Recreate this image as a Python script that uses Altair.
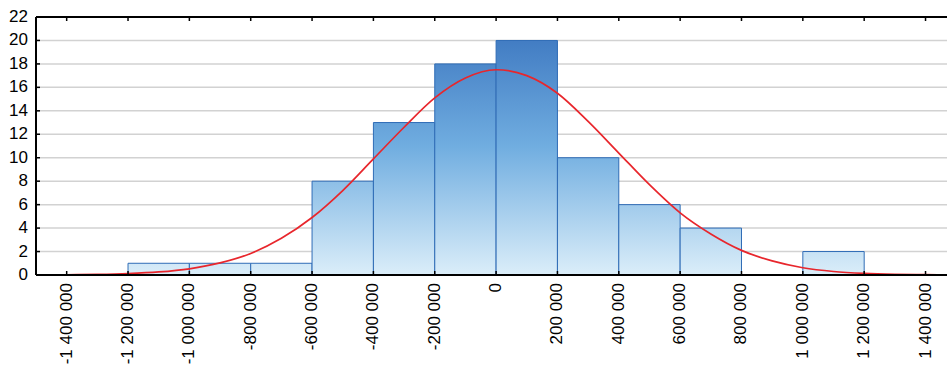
import altair as alt
import pandas as pd

# ---- data ----
bin_start = [-1200000, -1000000, -800000, -600000, -400000, -200000, 0, 200000, 400000, 600000, 800000, 1000000]
bin_end = [-1000000, -800000, -600000, -400000, -200000, 0, 200000, 400000, 600000, 800000, 1000000, 1200000]
counts = [1, 1, 1, 8, 13, 18, 20, 10, 6, 4, 0, 2]

curve_x = [-1500000, -1400000, -1300000, -1200000, -1100000, -1000000, -900000, -800000,
           -700000, -600000, -500000, -400000, -300000, -200000, -100000, 0,
           100000, 200000, 300000, 400000, 500000, 600000, 700000, 800000,
           900000, 1000000, 1100000, 1200000, 1300000, 1400000, 1500000]
curve_y = [0.01, 0.02, 0.05, 0.12, 0.26, 0.53, 1.03, 1.84,
           3.13, 4.9, 7.2, 9.9, 12.6, 15.1, 16.8, 17.5,
           17.0, 15.5, 13.1, 10.4, 7.7, 5.3, 3.5, 2.1,
           1.2, 0.62, 0.3, 0.14, 0.06, 0.025, 0.01]

x_ticks = [-1400000, -1200000, -1000000, -800000, -600000, -400000, -200000, 0,
           200000, 400000, 600000, 800000, 1000000, 1200000, 1400000]
x_tick_labels = ["-1 400 000", "-1 200 000", "-1 000 000", "-800 000", "-600 000", "-400 000",
                 "-200 000", "0", "200 000", "400 000", "600 000", "800 000",
                 "1 000 000", "1 200 000", "1 400 000"]
y_ticks = [0, 2, 4, 6, 8, 10, 12, 14, 16, 18, 20, 22]
y_tick_labels = ["0", "2", "4", "6", "8", "10", "12", "14", "16", "18", "20", "22"]
grid_values = [2, 4, 6, 8, 10, 12, 14, 16, 18, 20]

X_DOMAIN = [-1500000, 1470000]
Y_MAX = 22
W, H = 911, 258
FONT = "Liberation Sans, Arial, sans-serif"
FS = 17

bars_df = pd.DataFrame({"start": bin_start, "end": bin_end, "count": counts, "idx": range(len(counts))})
curve_df = pd.DataFrame({"x": curve_x, "y": curve_y})
xt_df = pd.DataFrame({"t": x_ticks, "label": x_tick_labels})
yt_df = pd.DataFrame({"t": y_ticks, "label": y_tick_labels})
grid_df = pd.DataFrame({"g": grid_values})

xscale = alt.Scale(domain=X_DOMAIN, nice=False, zero=False)
yscale = alt.Scale(domain=[0, Y_MAX], nice=False)

c_top, c_mid, c_bot = "#3872bd", "#70ade0", "#dbeef9"

layers = []

grid = alt.Chart(grid_df).mark_rule(color="#d2d2d2", strokeWidth=1.5).encode(
    y=alt.Y("g:Q", scale=yscale, axis=None), x=alt.value(0), x2=alt.value(W)
)
layers.append(grid)

for i, c in enumerate(counts):
    if c == 0:
        continue
    grad = alt.Gradient(
        gradient="linear",
        stops=[alt.GradientStop(color=c_top, offset=0),
               alt.GradientStop(color=c_mid, offset=0.5),
               alt.GradientStop(color=c_bot, offset=1)],
        x1=0, x2=0, y1=(c - Y_MAX) / c, y2=1,
    )
    layers.append(
        alt.Chart(bars_df).transform_filter(f"datum.idx == {i}").mark_bar(
            fill=grad, stroke="#2f6cb6", strokeWidth=1
        ).encode(
            x=alt.X("start:Q", scale=xscale, axis=None),
            x2="end:Q",
            y=alt.Y("count:Q", scale=yscale, axis=None),
            y2=alt.datum(0),
        )
    )

curve = alt.Chart(curve_df).mark_line(color="#e8262c", strokeWidth=1.7, interpolate="monotone", clip=True).encode(
    x=alt.X("x:Q", scale=xscale, axis=None),
    y=alt.Y("y:Q", scale=yscale, axis=None),
)
layers.append(curve)

bottom_line = alt.Chart(xt_df).mark_rule(color="black", strokeWidth=2).encode(
    x=alt.value(0), x2=alt.value(W), y=alt.value(H)
)
top_line = alt.Chart(xt_df).mark_rule(color="black", strokeWidth=1.5).encode(
    x=alt.value(0), x2=alt.value(W), y=alt.value(0)
)
left_line = alt.Chart(yt_df).mark_rule(color="black", strokeWidth=1.5).encode(
    x=alt.value(0), y=alt.value(0), y2=alt.value(H)
)
bottom_ticks = alt.Chart(xt_df).mark_rule(color="black", strokeWidth=1.5).encode(
    x=alt.X("t:Q", scale=xscale, axis=None), y=alt.value(H), y2=alt.value(H - 4)
)
top_ticks = alt.Chart(xt_df).mark_rule(color="black", strokeWidth=1.5).encode(
    x=alt.X("t:Q", scale=xscale, axis=None), y=alt.value(0), y2=alt.value(4)
)
left_ticks = alt.Chart(yt_df).mark_rule(color="black", strokeWidth=1.5).encode(
    y=alt.Y("t:Q", scale=yscale, axis=None), x=alt.value(0), x2=alt.value(4)
)
x_labels = alt.Chart(xt_df).mark_text(
    angle=270, align="right", baseline="middle", font=FONT, fontSize=FS, color="black"
).encode(
    x=alt.X("t:Q", scale=xscale, axis=None), y=alt.value(H + 8), text="label:N"
)
y_labels = alt.Chart(yt_df).mark_text(
    align="right", baseline="middle", font=FONT, fontSize=FS, color="black"
).encode(
    y=alt.Y("t:Q", scale=yscale, axis=None), x=alt.value(-8), text="label:N"
)
layers += [bottom_line, top_line, left_line, bottom_ticks, top_ticks, left_ticks, x_labels, y_labels]

chart = alt.layer(*layers).properties(
    width=W, height=H,
    autosize=alt.AutoSizeParams(type="none"),
    padding={"left": 36, "top": 17, "right": 1, "bottom": 91},
    background="white",
).configure_view(stroke=None)

chart.save("out.html", embed_options={"renderer": "svg", "actions": False})
